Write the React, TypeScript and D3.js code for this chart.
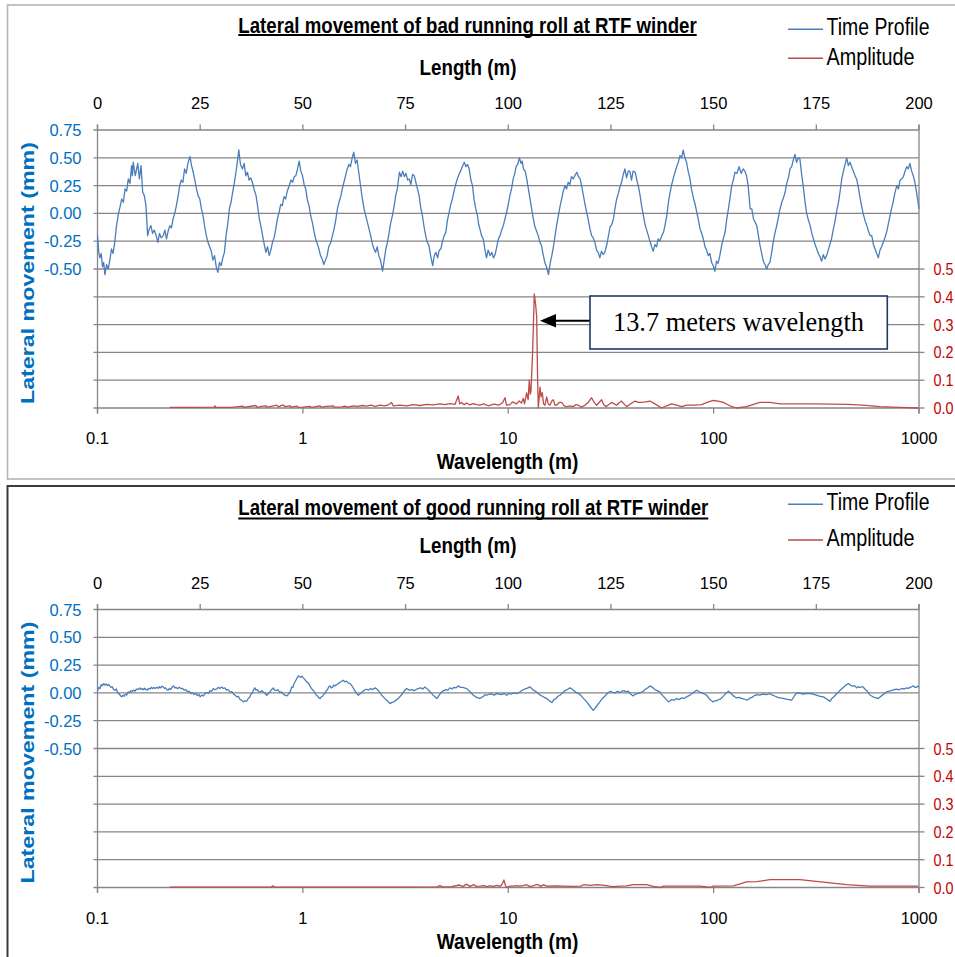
import React from "react";
import * as d3 from "d3";

// ---------- data ----------
const lengthTicks = [0, 25, 50, 75, 100, 125, 150, 175, 200];
const lateralTickValues = [0.75, 0.5, 0.25, 0, -0.25, -0.5];
const lateralTickLabels = ["0.75", "0.50", "0.25", "0.00", "-0.25", "-0.50"];
const gridValues = [0.75, 0.5, 0.25, 0, -0.25, -0.5, -0.75, -1, -1.25, -1.5, -1.75];
const wavelengthTicks = [0.1, 1, 10, 100, 1000];
const wavelengthTickLabels = ["0.1", "1", "10", "100", "1000"];
const amplitudeTicks = [0, 0.1, 0.2, 0.3, 0.4, 0.5];
const amplitudeTickLabels = ["0.0", "0.1", "0.2", "0.3", "0.4", "0.5"];

const titles = [
  "Lateral movement of bad running roll at RTF winder",
  "Lateral movement of good running roll at RTF winder",
];
const seriesNames = ["Time Profile", "Amplitude"];
const annotationText = "13.7 meters wavelength";

// [length m, lateral mm]
const badProfile: [number, number][] = [
[0.0,-0.2],[0.3,-0.35],[0.6,-0.4],[0.9,-0.36],[1.2,-0.48],[1.5,-0.44],[1.8,-0.55],[2.2,-0.46],[2.6,-0.5],[3.0,-0.42],[3.4,-0.32],[3.8,-0.36],[4.2,-0.26],[4.6,-0.12],[5.1,0.0],[5.5,0.06],[5.9,0.13],[6.3,0.1],[6.7,0.22],[7.1,0.2],[7.5,0.31],[7.9,0.27],[8.3,0.43],[8.5,0.34],[8.7,0.46],[9.2,0.34],[9.8,0.45],[10.2,0.31],[10.6,0.43],[11.0,0.19],[11.4,0.16],[11.8,0.07],[12.2,-0.2],[12.6,-0.14],[13.0,-0.11],[13.4,-0.18],[13.8,-0.15],[14.3,-0.2],[14.7,-0.26],[15.1,-0.18],[15.5,-0.22],[16.0,-0.2],[16.4,-0.15],[16.8,-0.23],[17.2,-0.16],[17.6,-0.11],[18.0,-0.13],[18.4,-0.05],[18.8,0.0],[19.2,0.07],[19.6,0.15],[20.0,0.25],[20.4,0.3],[20.8,0.28],[21.2,0.4],[21.6,0.36],[22.0,0.45],[22.5,0.51],[22.9,0.43],[23.3,0.37],[23.7,0.3],[24.1,0.22],[24.5,0.16],[24.9,0.13],[25.3,0.04],[25.7,-0.02],[26.1,-0.12],[26.5,-0.2],[26.9,-0.26],[27.3,-0.3],[27.7,-0.34],[28.1,-0.42],[28.5,-0.38],[28.9,-0.48],[29.3,-0.53],[29.7,-0.44],[30.1,-0.47],[30.5,-0.4],[30.9,-0.35],[31.3,-0.2],[31.7,-0.1],[32.1,0.04],[32.5,0.1],[32.9,0.19],[33.3,0.27],[33.7,0.37],[34.0,0.45],[34.4,0.57],[34.8,0.44],[35.3,0.4],[35.7,0.45],[36.1,0.34],[36.5,0.37],[36.9,0.3],[37.3,0.32],[37.7,0.28],[38.1,0.22],[38.6,0.16],[39.0,0.06],[39.4,-0.05],[39.8,-0.12],[40.2,-0.2],[40.6,-0.28],[41.0,-0.35],[41.4,-0.3],[41.8,-0.38],[42.2,-0.33],[42.6,-0.26],[43.0,-0.22],[43.4,-0.14],[43.8,-0.05],[44.2,0.01],[44.6,0.08],[45.0,0.07],[45.4,0.15],[45.8,0.13],[46.2,0.2],[46.7,0.25],[47.1,0.3],[47.5,0.28],[47.9,0.33],[48.3,0.34],[48.7,0.4],[49.1,0.47],[49.5,0.38],[49.9,0.34],[50.3,0.26],[50.7,0.22],[51.1,0.12],[51.5,0.07],[51.9,-0.02],[52.3,-0.08],[52.7,-0.16],[53.1,-0.23],[53.5,-0.27],[53.9,-0.32],[54.3,-0.38],[54.7,-0.41],[55.1,-0.46],[55.5,-0.42],[55.9,-0.38],[56.3,-0.3],[56.8,-0.26],[57.2,-0.2],[57.6,-0.14],[58.0,-0.06],[58.4,0.04],[58.8,0.1],[59.2,0.15],[59.6,0.22],[60.0,0.28],[60.4,0.34],[60.8,0.4],[61.2,0.44],[61.6,0.42],[62.0,0.5],[62.4,0.55],[62.8,0.45],[63.2,0.48],[63.6,0.37],[64.0,0.26],[64.4,0.15],[64.9,0.04],[65.3,-0.02],[65.7,-0.08],[66.1,-0.14],[66.5,-0.2],[66.9,-0.27],[67.3,-0.32],[67.7,-0.35],[68.1,-0.3],[68.5,-0.38],[68.9,-0.42],[69.4,-0.52],[69.8,-0.42],[70.2,-0.32],[70.6,-0.26],[71.0,-0.17],[71.4,-0.08],[71.8,-0.02],[72.2,0.06],[72.6,0.16],[73.0,0.22],[73.5,0.37],[73.9,0.33],[74.3,0.38],[74.7,0.33],[75.1,0.36],[75.5,0.3],[75.9,0.31],[76.3,0.26],[76.7,0.35],[77.1,0.34],[77.5,0.28],[77.9,0.22],[78.3,0.16],[78.7,0.05],[79.1,-0.02],[79.5,-0.12],[79.9,-0.2],[80.3,-0.26],[80.7,-0.29],[81.1,-0.38],[81.6,-0.47],[82.0,-0.38],[82.4,-0.35],[82.8,-0.4],[83.2,-0.33],[83.6,-0.32],[84.0,-0.25],[84.4,-0.2],[84.8,-0.17],[85.2,-0.06],[85.6,0.01],[86.0,0.08],[86.4,0.13],[86.8,0.2],[87.2,0.26],[87.6,0.31],[88.0,0.35],[88.4,0.38],[88.8,0.42],[89.3,0.46],[89.7,0.42],[90.1,0.44],[90.5,0.4],[90.9,0.3],[91.3,0.25],[91.7,0.12],[92.1,0.04],[92.5,-0.02],[92.8,-0.1],[93.1,-0.14],[93.5,-0.2],[93.9,-0.23],[94.3,-0.32],[94.7,-0.4],[95.1,-0.33],[95.6,-0.38],[96.0,-0.35],[96.4,-0.4],[96.8,-0.37],[97.2,-0.3],[97.6,-0.23],[98.0,-0.2],[98.4,-0.15],[98.8,-0.11],[99.2,-0.05],[99.6,0.01],[100.0,0.08],[100.4,0.16],[100.8,0.22],[101.2,0.31],[101.6,0.36],[101.9,0.42],[102.3,0.44],[102.7,0.5],[103.1,0.45],[103.4,0.47],[103.7,0.4],[104.1,0.38],[104.5,0.31],[104.9,0.22],[105.3,0.13],[105.7,0.04],[106.1,-0.05],[106.5,-0.12],[106.9,-0.16],[107.3,-0.2],[107.7,-0.26],[108.1,-0.29],[108.5,-0.37],[108.9,-0.44],[109.3,-0.48],[109.8,-0.55],[110.2,-0.45],[110.6,-0.38],[111.0,-0.3],[111.4,-0.2],[111.8,-0.1],[112.2,-0.02],[112.6,0.06],[113.0,0.13],[113.4,0.2],[113.8,0.25],[114.2,0.22],[114.6,0.28],[115.0,0.26],[115.4,0.33],[115.8,0.31],[116.2,0.34],[116.7,0.37],[117.1,0.33],[117.5,0.31],[117.9,0.24],[118.3,0.16],[118.7,0.08],[119.1,0.01],[119.5,-0.06],[119.9,-0.14],[120.3,-0.2],[120.7,-0.22],[121.1,-0.26],[121.5,-0.33],[121.9,-0.35],[122.3,-0.4],[122.7,-0.34],[123.1,-0.37],[123.5,-0.35],[124.0,-0.28],[124.4,-0.2],[124.8,-0.12],[125.2,-0.1],[125.6,-0.05],[126.0,0.05],[126.4,0.13],[126.8,0.18],[127.2,0.24],[127.6,0.28],[128.0,0.35],[128.4,0.4],[128.8,0.32],[129.2,0.38],[129.6,0.38],[130.0,0.3],[130.4,0.38],[130.9,0.37],[131.3,0.3],[131.7,0.24],[132.1,0.16],[132.5,0.06],[132.9,-0.02],[133.3,-0.1],[133.7,-0.15],[134.1,-0.2],[134.5,-0.25],[134.9,-0.3],[135.3,-0.34],[135.7,-0.28],[136.1,-0.3],[136.5,-0.23],[136.9,-0.25],[137.4,-0.2],[137.8,-0.17],[138.2,-0.1],[138.6,-0.02],[139.0,0.1],[139.4,0.19],[139.8,0.26],[140.2,0.32],[140.6,0.37],[141.0,0.42],[141.4,0.46],[141.8,0.52],[142.2,0.5],[142.6,0.57],[143.0,0.5],[143.4,0.46],[143.8,0.38],[144.2,0.32],[144.6,0.22],[145.0,0.15],[145.5,0.08],[145.9,0.01],[146.3,-0.06],[146.7,-0.14],[147.1,-0.18],[147.5,-0.23],[147.9,-0.3],[148.3,-0.33],[148.7,-0.38],[149.1,-0.36],[149.5,-0.44],[149.9,-0.47],[150.3,-0.52],[150.7,-0.43],[151.1,-0.45],[151.5,-0.38],[152.0,-0.28],[152.4,-0.22],[152.8,-0.17],[153.2,-0.05],[153.6,0.04],[154.0,0.14],[154.4,0.25],[154.8,0.3],[155.2,0.37],[155.7,0.36],[156.2,0.42],[156.7,0.36],[157.2,0.4],[157.6,0.38],[158.0,0.34],[158.4,0.25],[158.9,0.04],[159.3,0.04],[159.7,-0.05],[160.1,-0.08],[160.5,-0.11],[160.9,-0.2],[161.3,-0.29],[161.7,-0.36],[162.1,-0.43],[162.5,-0.46],[162.9,-0.5],[163.3,-0.46],[163.7,-0.44],[164.1,-0.36],[164.5,-0.26],[164.9,-0.18],[165.3,-0.12],[165.7,-0.05],[166.1,0.03],[166.6,0.1],[167.0,0.14],[167.4,0.19],[167.8,0.27],[168.2,0.32],[168.6,0.4],[169.0,0.42],[169.4,0.48],[169.8,0.53],[170.2,0.46],[170.6,0.5],[171.0,0.49],[171.4,0.36],[171.8,0.25],[172.2,0.12],[172.6,0.01],[173.0,-0.05],[173.5,-0.11],[173.9,-0.18],[174.3,-0.23],[174.7,-0.28],[175.1,-0.32],[175.5,-0.36],[175.9,-0.39],[176.3,-0.43],[176.7,-0.37],[177.1,-0.41],[177.5,-0.38],[177.9,-0.33],[178.3,-0.28],[178.7,-0.23],[179.1,-0.15],[179.5,-0.08],[180.0,0.03],[180.4,0.1],[180.8,0.2],[181.2,0.31],[181.6,0.38],[182.0,0.44],[182.4,0.5],[182.8,0.43],[183.2,0.46],[183.6,0.42],[184.0,0.38],[184.4,0.34],[184.8,0.31],[185.2,0.24],[185.6,0.15],[186.0,0.07],[186.4,0.0],[186.9,-0.07],[187.3,-0.11],[187.7,-0.16],[188.1,-0.2],[188.5,-0.2],[188.9,-0.28],[189.3,-0.32],[189.7,-0.36],[190.1,-0.4],[190.5,-0.33],[190.9,-0.3],[191.3,-0.26],[191.7,-0.22],[192.1,-0.17],[192.5,-0.1],[192.9,-0.03],[193.3,0.04],[193.7,0.1],[194.1,0.18],[194.6,0.25],[195.0,0.22],[195.4,0.3],[195.8,0.31],[196.2,0.33],[196.6,0.38],[197.0,0.42],[197.4,0.4],[197.8,0.45],[198.2,0.38],[198.6,0.34],[199.0,0.28],[199.4,0.19],[199.7,0.12],[200.0,0.04]
];

const goodProfile: [number, number][] = [
[0,0.02],[0.3,0.05],[0.6,0.04],[0.9,0.075],[1.2,0.065],[1.5,0.085],[1.8,0.07],[2.1,0.08],[2.4,0.065],[2.7,0.075],[3.0,0.063],[3.3,0.05],[3.6,0.055],[3.9,0.03],[4.3,0.024],[4.6,0.035],[4.9,0.0],[5.3,-0.01],[5.6,-0.025],[5.9,-0.036],[6.2,-0.02],[6.5,-0.03],[6.8,-0.01],[7.1,-0.02],[7.5,0.009],[7.8,0.0],[8.1,0.02],[8.4,0.012],[8.8,0.025],[9.1,0.015],[9.5,0.035],[9.9,0.03],[10.3,0.045],[10.6,0.03],[10.9,0.04],[11.2,0.028],[11.5,0.042],[11.8,0.03],[12.1,0.024],[12.4,0.04],[12.8,0.035],[13.1,0.05],[13.4,0.038],[13.7,0.048],[14.0,0.04],[14.4,0.05],[14.8,0.042],[15.1,0.055],[15.4,0.045],[15.7,0.06],[16.0,0.054],[16.3,0.04],[16.6,0.045],[16.9,0.03],[17.2,0.024],[17.5,0.04],[17.8,0.03],[18.1,0.05],[18.5,0.063],[18.8,0.045],[19.1,0.05],[19.5,0.038],[19.9,0.05],[20.3,0.039],[20.7,0.04],[21.1,0.025],[21.5,0.03],[21.9,0.01],[22.3,0.015],[22.7,-0.006],[23.1,0.0],[23.5,-0.015],[23.9,-0.005],[24.3,-0.025],[24.7,-0.012],[25.0,-0.036],[25.4,-0.02],[25.8,-0.028],[26.2,-0.005],[26.6,0.003],[27.0,-0.005],[27.4,0.02],[27.8,0.015],[28.2,0.039],[28.6,0.028],[29.0,0.035],[29.4,0.05],[29.8,0.04],[30.2,0.054],[30.6,0.04],[31.0,0.045],[31.4,0.025],[31.8,0.03],[32.3,0.009],[32.7,0.012],[33.1,-0.01],[33.5,-0.02],[33.9,-0.036],[34.3,-0.03],[34.7,-0.06],[35.1,-0.065],[35.5,-0.081],[35.9,-0.07],[36.3,-0.075],[36.7,-0.05],[37.1,-0.036],[37.4,-0.01],[37.7,0.0],[38.0,0.03],[38.3,0.045],[38.6,0.025],[38.9,0.03],[39.3,0.01],[39.6,0.009],[40.0,0.02],[40.3,0.01],[40.8,-0.005],[41.2,-0.021],[41.6,-0.005],[42.0,0.01],[42.4,0.03],[42.8,0.045],[43.1,0.025],[43.5,0.02],[43.9,0.03],[44.4,0.003],[44.8,0.01],[45.2,-0.01],[45.6,-0.02],[46.1,-0.027],[46.4,-0.015],[46.7,0.0],[47.0,0.02],[47.3,0.054],[47.6,0.05],[47.8,0.08],[48.1,0.1],[48.4,0.12],[48.7,0.14],[48.9,0.153],[49.2,0.145],[49.5,0.14],[49.8,0.15],[50.1,0.135],[50.5,0.12],[50.9,0.1],[51.3,0.09],[51.7,0.063],[52.0,0.045],[52.3,0.03],[52.7,0.015],[53.0,-0.006],[53.3,-0.02],[53.6,-0.03],[53.9,-0.045],[54.2,-0.051],[54.5,-0.035],[54.8,-0.03],[55.1,-0.01],[55.4,-0.006],[55.7,0.02],[56.0,0.03],[56.3,0.055],[56.6,0.063],[56.9,0.045],[57.2,0.05],[57.5,0.07],[57.8,0.063],[58.3,0.075],[58.8,0.09],[59.3,0.1],[59.8,0.114],[60.2,0.1],[60.6,0.105],[61.0,0.09],[61.5,0.084],[62.0,0.06],[62.5,0.03],[63.0,0.0],[63.5,-0.021],[64.0,-0.005],[64.5,0.01],[65.0,0.025],[65.5,0.033],[66.0,0.025],[66.5,0.04],[67.0,0.03],[67.6,0.045],[68.0,0.035],[68.4,0.02],[68.8,0.0],[69.2,-0.021],[69.7,-0.04],[70.2,-0.06],[70.7,-0.075],[71.2,-0.096],[71.7,-0.085],[72.2,-0.08],[72.7,-0.065],[73.2,-0.051],[73.7,-0.03],[74.2,-0.01],[74.7,0.02],[75.3,0.039],[75.9,0.025],[76.5,0.03],[77.1,0.02],[77.7,0.033],[78.2,0.04],[78.7,0.045],[79.2,0.035],[79.7,0.054],[80.1,0.04],[80.5,0.03],[80.9,0.01],[81.4,-0.006],[81.7,-0.02],[82.0,-0.03],[82.3,-0.04],[82.6,-0.051],[82.9,-0.035],[83.2,-0.02],[83.5,-0.005],[83.8,0.009],[84.3,0.02],[84.8,0.03],[85.3,0.025],[85.8,0.045],[86.3,0.035],[86.8,0.05],[87.3,0.045],[87.8,0.063],[88.3,0.05],[88.8,0.05],[89.3,0.045],[89.9,0.039],[90.3,0.025],[90.7,0.01],[91.1,-0.005],[91.5,-0.021],[91.9,-0.03],[92.3,-0.04],[92.7,-0.045],[93.1,-0.051],[93.5,-0.04],[94.0,-0.03],[94.4,-0.015],[94.8,-0.021],[95.4,-0.01],[96.0,-0.01],[96.6,-0.02],[97.2,-0.006],[97.8,-0.01],[98.4,-0.015],[99.0,-0.005],[99.6,-0.021],[100.2,-0.005],[100.8,-0.01],[101.5,0.0],[102.1,-0.006],[102.9,0.01],[103.7,0.03],[104.5,0.04],[105.3,0.054],[105.8,0.035],[106.3,0.02],[106.8,0.01],[107.3,-0.006],[107.8,-0.02],[108.3,-0.03],[108.8,-0.04],[109.4,-0.051],[110.0,-0.07],[110.6,-0.087],[111.1,-0.06],[111.6,-0.05],[112.1,-0.03],[112.6,-0.021],[113.2,0.0],[113.8,0.02],[114.4,0.03],[115.0,0.045],[115.5,0.035],[116.0,0.02],[116.5,0.005],[117.1,-0.006],[117.6,-0.02],[118.1,-0.04],[118.6,-0.06],[119.1,-0.081],[119.5,-0.1],[119.9,-0.12],[120.3,-0.14],[120.7,-0.156],[121.1,-0.14],[121.5,-0.12],[121.9,-0.1],[122.3,-0.081],[122.9,-0.05],[123.5,-0.03],[124.1,-0.005],[124.8,0.015],[125.4,0.005],[126.0,0.0],[126.6,0.015],[127.2,0.003],[127.7,0.015],[128.2,0.02],[128.7,0.01],[129.2,0.015],[129.8,-0.01],[130.4,-0.027],[131.0,-0.01],[131.6,-0.005],[132.3,0.005],[132.9,0.015],[133.3,0.03],[133.7,0.04],[134.1,0.05],[134.5,0.063],[135.1,0.05],[135.7,0.03],[136.3,0.02],[136.9,0.009],[137.5,-0.02],[138.0,-0.04],[138.5,-0.06],[139.0,-0.081],[139.4,-0.07],[139.8,-0.06],[140.4,-0.065],[141.0,-0.051],[141.6,-0.06],[142.2,-0.045],[142.8,-0.05],[143.4,-0.036],[144.0,-0.025],[144.6,-0.01],[145.3,0.01],[145.9,0.024],[146.5,0.01],[147.1,0.0],[147.7,-0.01],[148.3,-0.021],[148.7,-0.04],[149.1,-0.06],[149.5,-0.07],[149.9,-0.081],[150.4,-0.07],[150.8,-0.07],[151.2,-0.06],[151.6,-0.057],[152.1,-0.04],[152.6,-0.02],[153.1,0.0],[153.6,0.015],[154.1,0.0],[154.6,-0.02],[155.1,-0.035],[155.6,-0.045],[156.2,-0.04],[156.8,-0.05],[157.4,-0.055],[158.1,-0.066],[158.7,-0.05],[159.3,-0.04],[159.9,-0.025],[160.5,-0.015],[161.2,-0.02],[162.0,-0.01],[162.8,-0.015],[163.7,-0.006],[164.3,-0.02],[165.0,-0.03],[165.6,-0.04],[166.2,-0.045],[166.9,-0.05],[167.6,-0.055],[168.3,-0.06],[169.0,-0.066],[169.6,-0.03],[170.2,0.0],[171.0,-0.005],[171.8,-0.01],[172.6,-0.005],[173.5,-0.006],[174.2,-0.01],[175.0,-0.02],[175.8,-0.03],[176.7,-0.036],[177.1,-0.045],[177.5,-0.055],[177.9,-0.065],[178.3,-0.075],[178.8,-0.05],[179.4,-0.03],[179.9,-0.01],[180.4,0.009],[181.0,0.03],[181.6,0.05],[182.2,0.07],[182.8,0.084],[183.3,0.07],[183.8,0.06],[184.3,0.065],[184.8,0.045],[185.2,0.055],[185.6,0.05],[186.0,0.055],[186.4,0.054],[186.8,0.035],[187.3,0.02],[187.7,0.0],[188.1,-0.021],[188.6,-0.03],[189.1,-0.04],[189.6,-0.045],[190.1,-0.051],[190.6,-0.035],[191.1,-0.02],[191.6,-0.005],[192.1,0.009],[192.7,0.015],[193.3,0.02],[193.9,0.03],[194.6,0.033],[195.2,0.028],[195.8,0.04],[196.4,0.035],[197.0,0.045],[197.4,0.04],[197.8,0.05],[198.2,0.055],[198.6,0.063],[199.0,0.05],[199.3,0.05],[199.7,0.06],[200.0,0.054]
];

// [wavelength m, amplitude]
const badAmplitude: [number, number][] = [
[0.225,0.002],[0.3,0.002],[0.37,0.003],[0.373,0.008],[0.376,0.002],[0.45,0.002],[0.51,0.007],[0.515,0.002],[0.59,0.009],[0.6,0.002],[0.63,0.006],[0.66,0.008],[0.67,0.003],[0.7,0.006],[0.745,0.01],[0.76,0.004],[0.8,0.011],[0.82,0.005],[0.866,0.008],[0.88,0.003],[0.933,0.007],[0.95,0.002],[1.0,0.003],[1.083,0.006],[1.1,0.002],[1.21,0.008],[1.23,0.003],[1.3,0.006],[1.406,0.008],[1.42,0.003],[1.55,0.004],[1.6,0.007],[1.65,0.003],[1.76,0.008],[1.85,0.006],[1.95,0.009],[2.045,0.007],[2.15,0.01],[2.25,0.006],[2.373,0.01],[2.5,0.008],[2.6,0.011],[2.705,0.02],[2.75,0.008],[2.97,0.01],[3.2,0.008],[3.45,0.012],[3.7,0.009],[4.01,0.013],[4.3,0.011],[4.65,0.015],[4.9,0.012],[5.2,0.016],[5.5,0.013],[5.71,0.043],[5.8,0.015],[5.93,0.02],[6.1,0.012],[6.28,0.018],[6.5,0.011],[6.76,0.016],[7.0,0.012],[7.28,0.01],
[7.6,0.015],[8.0,0.008],[8.5,0.014],[9.0,0.01],[9.4,0.02],[9.64,0.037],[9.8,0.01],[10.19,0.012],[10.5,0.022],[10.98,0.015],[11.3,0.025],[11.6,0.018],[11.84,0.035],[12.0,0.015],[12.29,0.054],[12.5,0.03],[12.66,0.1],[12.8,0.05],[12.9,0.06],[13.14,0.2],[13.39,0.41],[13.6,0.37],[13.75,0.33],[13.9,0.1],[14.01,0.0],[14.27,0.075],[14.45,0.04],[14.65,0.055],[14.85,0.015],[15.09,0.01],[15.38,0.04],[15.65,0.015],[15.96,0.01],[16.3,0.025],[16.57,0.03],[16.9,0.01],[17.2,0.01],[17.7,0.02],[18.19,0.02],[18.7,0.008],[19.24,0.005],[20,0.008],[20.73,0.005],[21.3,0.012],[21.92,0.01],[22.76,0.003],[23.62,0.01],[24.52,0.02],[25.46,0.037],[26.2,0.02],[26.93,0.01],[27.7,0.02],[28.48,0.03],[29.2,0.012],[29.9,0.005],[30.8,0.012],[31.86,0.02],[32.8,0.015],[33.7,0.01],[34.6,0.018],[35.64,0.025],[36.6,0.015],[37.69,0.005],[39.5,0.015],[41.4,0.025],[43,0.02],[44.6,0.02],[46.7,0.022],[48.97,0.025],[51.8,0.015],[55.8,0.0],[59,0.008],[62.4,0.015],[66,0.01],[69.8,0.005],[73.9,0.01],[80,0.01],[87.4,0.012],[93,0.02],[99.6,0.027],[105,0.025],[111.4,0.02],[120,0.008],[129.4,0.0],[144.7,0.005],[155,0.012],[168.1,0.02],[188,0.02],[210.3,0.015],[305.5,0.015],[444,0.013],[535,0.01],[645,0.005],[800,0.002],[991,0.0]
];

const goodAmplitude: [number, number][] = [
[0.225,0.001],[0.5,0.001],[0.7,0.001],[0.714,0.006],[0.73,0.001],[1.5,0.001],[3,0.001],[4.5,0.002],[4.64,0.007],[4.8,0.002],[5.3,0.003],[5.8,0.009],[6.0,0.003],[6.28,0.012],[6.5,0.004],[6.8,0.01],[7.0,0.004],[7.28,0.005],[7.6,0.007],[7.84,0.003],[8.1,0.006],[8.45,0.004],[8.8,0.008],[9.1,0.004],[9.3,0.01],[9.53,0.027],[9.7,0.006],[9.82,0.0],[10.2,0.005],[10.58,0.005],[11.0,0.007],[11.4,0.005],[11.8,0.007],[12.29,0.01],[12.7,0.004],[13.24,0.006],[13.6,0.01],[14.0,0.01],[14.4,0.004],[14.8,0.01],[15.38,0.005],[17,0.006],[18.6,0.005],[20.5,0.004],[22.5,0.005],[23.3,0.01],[25,0.008],[27.1,0.01],[29.5,0.008],[32.1,0.003],[35,0.005],[37.7,0.006],[40.6,0.01],[44,0.01],[47.2,0.01],[50.9,0.004],[54.9,0.0],[57,0.005],[68.7,0.005],[86,0.005],[96.2,0.0],[99.6,0.005],[125,0.006],[144.7,0.02],[161.9,0.021],[188,0.028],[263,0.028],[444,0.01],[578,0.005],[991,0.005]
];

// ---------- styling ----------
const SANS = "'Liberation Sans', Arial, sans-serif";
const SERIF = "'Liberation Serif', 'Times New Roman', serif";
const BLUE = "#4A7EBB";
const RED = "#BE4B48";
const AXIS_BLUE = "#0070C0";
const AXIS_RED = "#C00000";
const GRID = "#868686";
const X0 = 97.5;
const X1 = 919;

type Layout = {
  frameY: number; frameStroke: string; frameW: number; frameH: number;
  titleY: number; underlineY: number; titleX0: number; titleX1: number;
  lengthY: number; topTickY: number; plotTop: number; plotBottom: number;
  botTickY: number; waveY: number;
  leg1Y: number; leg2Y: number; legT1Y: number; legT2Y: number;
};

const layouts: Layout[] = [
  { frameY: 5, frameStroke: "#B5B5B5", frameW: 1.6, frameH: 474, titleY: 26, underlineY: 35, titleX0: 238.3, titleX1: 696.7,
    lengthY: 68, topTickY: 103, plotTop: 130, plotBottom: 408, botTickY: 437.7, waveY: 461.7,
    leg1Y: 29.3, leg2Y: 58.3, legT1Y: 26.7, legT2Y: 56.7 },
  { frameY: 486, frameStroke: "#3A3A3A", frameW: 2, frameH: 600, titleY: 508, underlineY: 518.5, titleX0: 238.3, titleX1: 708.3,
    lengthY: 545.7, topTickY: 583.3, plotTop: 609.5, plotBottom: 887.5, botTickY: 918.3, waveY: 941.7,
    leg1Y: 504.3, leg2Y: 540, legT1Y: 502, legT2Y: 538.3 },
];

function T(props: any) {
  const { x, y, size, anchor = "middle", weight = "normal", fill = "#000", len, family = SANS, rotate, children } = props;
  return (
    <text
      x={x}
      y={y}
      fontSize={size}
      textAnchor={anchor}
      fontWeight={weight}
      fill={fill}
      fontFamily={family}
      dominantBaseline="central"
      textLength={len}
      lengthAdjust={len ? "spacingAndGlyphs" : undefined}
      transform={rotate ? `rotate(-90 ${x} ${y})` : undefined}
    >
      {children}
    </text>
  );
}

function Panel({ p, title, profile, amplitude, annotate }: { p: Layout; title: string; profile: [number, number][]; amplitude: [number, number][]; annotate: boolean }) {
  const xLen = d3.scaleLinear().domain([0, 200]).range([X0, X1]);
  const xLog = d3.scaleLog().domain([0.1, 1000]).range([X0, X1]);
  const yLeft = d3.scaleLinear().domain([-1.75, 0.75]).range([p.plotBottom, p.plotTop]);
  const yRight = d3.scaleLinear().domain([0, 1]).range([p.plotBottom, p.plotTop]);
  const profLine = d3.line<[number, number]>().x((d) => xLen(d[0])).y((d) => yLeft(d[1]));
  const ampLine = d3.line<[number, number]>().x((d) => xLog(d[0])).y((d) => yRight(d[1]));
  const tx = (p.titleX0 + p.titleX1) / 2;
  const yTitleCenter = p.plotTop + 143;

  return (
    <g>
      <rect x={7.5} y={p.frameY} width={1000} height={p.frameH} fill="none" stroke={p.frameStroke} strokeWidth={p.frameW} />
      {/* title */}
      <T x={tx} y={p.titleY} size={21.5} weight="bold" len={p.titleX1 - p.titleX0}>{title}</T>
      <line x1={p.titleX0} x2={p.titleX1} y1={p.underlineY} y2={p.underlineY} stroke="#000" strokeWidth={1.8} />
      {/* legend */}
      <line x1={788} x2={823} y1={p.leg1Y} y2={p.leg1Y} stroke={BLUE} strokeWidth={1.5} />
      <T x={826.5} y={p.legT1Y} size={23.5} anchor="start" len={103}>{seriesNames[0]}</T>
      <line x1={788} x2={823} y1={p.leg2Y} y2={p.leg2Y} stroke={RED} strokeWidth={1.5} />
      <T x={826.5} y={p.legT2Y} size={23.5} anchor="start" len={88}>{seriesNames[1]}</T>
      {/* axis titles */}
      <T x={468} y={p.lengthY} size={21.5} weight="bold" len={97}>Length (m)</T>
      <T x={507.5} y={p.waveY} size={21.5} weight="bold" len={141.6}>Wavelength (m)</T>
      <T x={27} y={yTitleCenter} size={19} weight="bold" fill={AXIS_BLUE} len={262} rotate>Lateral movement (mm)</T>
      {/* gridlines */}
      {gridValues.map((v) => (
        <line key={"g" + v} x1={X0 - 4} x2={X1} y1={yLeft(v)} y2={yLeft(v)} stroke={GRID} strokeWidth={1.3} />
      ))}
      {/* vertical axis lines */}
      <line x1={X0} x2={X0} y1={p.plotTop - 5.5} y2={p.plotBottom + 5.5} stroke={GRID} strokeWidth={1.3} />
      <line x1={X1} x2={X1} y1={p.plotTop - 5.5} y2={p.plotBottom + 5.5} stroke={GRID} strokeWidth={1.3} />
      {/* top axis ticks + labels */}
      {lengthTicks.map((v) => (
        <g key={"lt" + v}>
          <line x1={xLen(v)} x2={xLen(v)} y1={p.plotTop - 5.5} y2={p.plotTop} stroke={GRID} strokeWidth={1.3} />
          <T x={xLen(v)} y={p.topTickY} size={16.5}>{String(v)}</T>
        </g>
      ))}
      {/* left axis labels */}
      {lateralTickValues.map((v, i) => (
        <T key={"ll" + v} x={81.5} y={yLeft(v)} size={16.5} anchor="end" fill={AXIS_BLUE}>{lateralTickLabels[i]}</T>
      ))}
      {/* right axis ticks + labels */}
      {amplitudeTicks.map((v, i) => (
        <g key={"ra" + v}>
          <line x1={X1} x2={X1 + 5.5} y1={yRight(v)} y2={yRight(v)} stroke={GRID} strokeWidth={1.3} />
          <T x={933.5} y={yRight(v)} size={16.5} anchor="start" fill={AXIS_RED} len={20}>{amplitudeTickLabels[i]}</T>
        </g>
      ))}
      {/* bottom log axis ticks + labels */}
      {wavelengthTicks.map((v, i) => (
        <g key={"wt" + v}>
          <line x1={xLog(v)} x2={xLog(v)} y1={p.plotBottom} y2={p.plotBottom + 5.5} stroke={GRID} strokeWidth={1.3} />
          <T x={xLog(v)} y={p.botTickY} size={16.5}>{wavelengthTickLabels[i]}</T>
        </g>
      ))}
      {/* series */}
      <path d={ampLine(amplitude) || ""} fill="none" stroke={RED} strokeWidth={1.3} strokeLinejoin="round" />
      <path d={profLine(profile) || ""} fill="none" stroke={BLUE} strokeWidth={1.3} strokeLinejoin="round" />
      {annotate && (
        <g>
          <line x1={590} x2={555} y1={320.7} y2={320.7} stroke="#000" strokeWidth={2} />
          <path d="M540,320.7 L556,314 L556,327.4 Z" fill="#000" />
          <rect x={590} y={296} width={297.3} height={53} fill="#fff" stroke="#1F3864" strokeWidth={1.6} />
          <T x={738.5} y={322} size={26.5} family={SERIF} len={251}>{annotationText}</T>
        </g>
      )}
    </g>
  );
}

export default function App() {
  return (
    <div style={{ position: "absolute", left: 0, top: 0, width: 955, height: 957, overflow: "hidden", background: "#fff" }}>
      <svg width={955} height={957} viewBox="0 0 955 957" style={{ display: "block" }}>
        <rect x={0} y={0} width={955} height={957} fill="#fff" />
        <Panel p={layouts[0]} title={titles[0]} profile={badProfile} amplitude={badAmplitude} annotate={true} />
        <Panel p={layouts[1]} title={titles[1]} profile={goodProfile} amplitude={goodAmplitude} annotate={false} />
      </svg>
    </div>
  );
}
